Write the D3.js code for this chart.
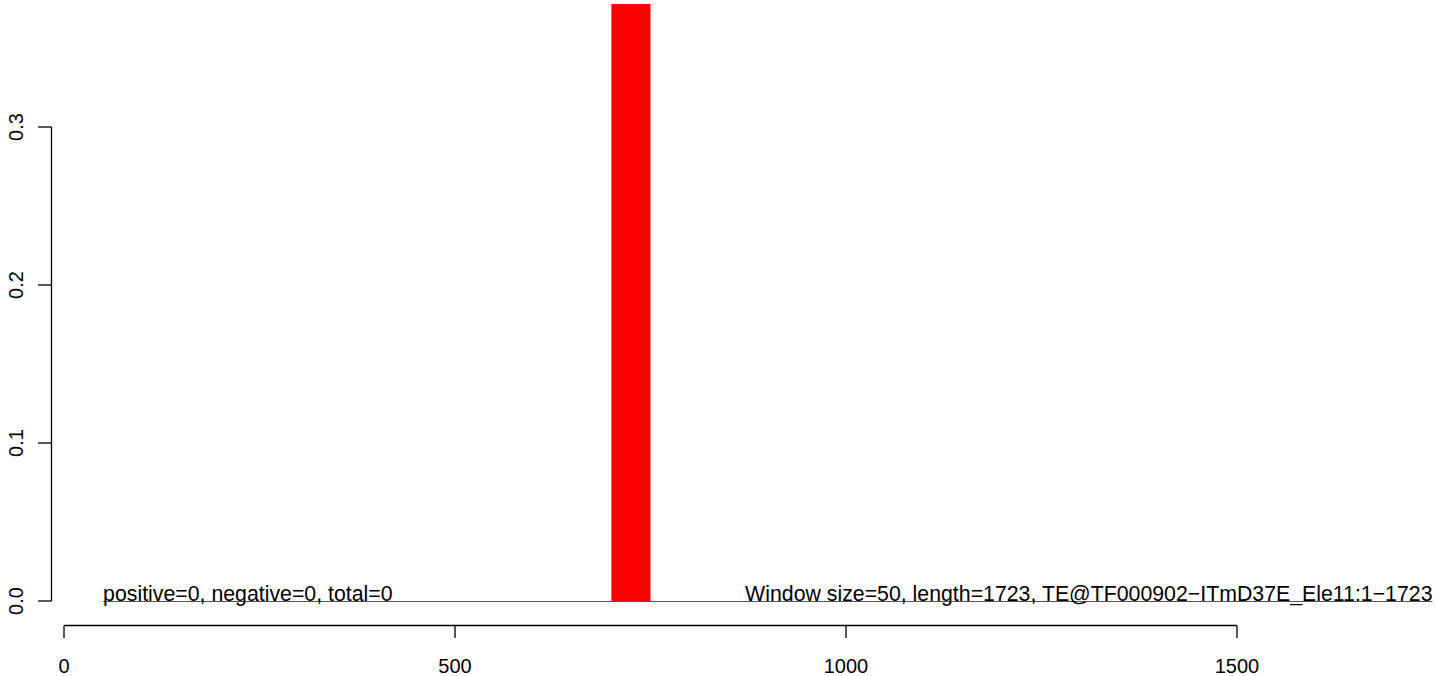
<!DOCTYPE html>
<html>
<head>
<meta charset="utf-8">
<script src="https://cdn.jsdelivr.net/npm/d3@7"></script>
<style>
  html, body { margin: 0; padding: 0; background: #fff; }
  svg text { font-family: "Liberation Sans", Arial, Helvetica, sans-serif; fill: #000; }
</style>
</head>
<body>
<svg id="chart" width="1444" height="676"></svg>
<script>
// ---- data ----
const barStarts = [700];
const barEnds = [750];
const barValues = [0.378];
const baselineRange = [50, 1750];
const xTicks = [0, 500, 1000, 1500];
const yTicks = [0, 0.1, 0.2, 0.3];
const leftLabel = "positive=0, negative=0, total=0";
const rightLabel = "Window size=50, length=1723, TE@TF000902\u2212ITmD37E_Ele11:1\u22121723";

// ---- layout ----
const svg = d3.select("#chart");
const fs = 20;
const fsNote = 21.3;
const x = d3.scaleLinear().domain([0, 1500]).range([64, 1237]);
const y = d3.scaleLinear().domain([0, 0.3]).range([601, 127]);
const plotTop = 4;

svg.append("defs").append("clipPath").attr("id", "clip")
  .append("rect").attr("x", 0).attr("y", plotTop).attr("width", 1444).attr("height", 700);

// bars
svg.append("g").attr("clip-path", "url(#clip)")
  .selectAll("rect").data(barValues).join("rect")
  .attr("x", (d, i) => x(barStarts[i]))
  .attr("width", (d, i) => x(barEnds[i]) - x(barStarts[i]))
  .attr("y", d => y(d))
  .attr("height", d => y(0) - y(d))
  .attr("fill", "#ff0000");

// baseline
svg.append("line")
  .attr("x1", x(baselineRange[0])).attr("x2", x(baselineRange[1]))
  .attr("y1", y(0) + 0.5).attr("y2", y(0) + 0.5)
  .attr("stroke", "#555").attr("stroke-width", 1);

// texts
svg.append("text").attr("x", x(baselineRange[0])).attr("y", y(0))
  .attr("font-size", fsNote).attr("text-anchor", "start").text(leftLabel);
svg.append("text").attr("x", x(baselineRange[1])).attr("y", y(0))
  .attr("font-size", fsNote).attr("text-anchor", "end").text(rightLabel);

// y axis
const ya = svg.append("g");
ya.append("line").attr("x1", 51.5).attr("x2", 51.5)
  .attr("y1", y(0.3)).attr("y2", y(0)).attr("stroke", "#000").attr("stroke-width", 1.3);
ya.selectAll("line.t").data(yTicks).join("line").attr("class", "t")
  .attr("x1", 38).attr("x2", 51.5)
  .attr("y1", d => y(d)).attr("y2", d => y(d))
  .attr("stroke", "#000").attr("stroke-width", 1.3);
ya.selectAll("text").data(yTicks).join("text")
  .attr("transform", d => `translate(23,${y(d)}) rotate(-90)`)
  .attr("text-anchor", "middle").attr("font-size", fs)
  .text(d => d3.format(".1f")(d));

// x axis
const xa = svg.append("g");
const axY = 625.5;
xa.append("line").attr("x1", x(0)).attr("x2", x(1500))
  .attr("y1", axY).attr("y2", axY).attr("stroke", "#000").attr("stroke-width", 1.3);
xa.selectAll("line.t").data(xTicks).join("line").attr("class", "t")
  .attr("x1", d => x(d)).attr("x2", d => x(d))
  .attr("y1", axY).attr("y2", 638)
  .attr("stroke", "#000").attr("stroke-width", 1.3);
xa.selectAll("text").data(xTicks).join("text")
  .attr("x", d => x(d)).attr("y", 673)
  .attr("text-anchor", "middle").attr("font-size", fs)
  .text(d => d);
</script>
</body>
</html>
